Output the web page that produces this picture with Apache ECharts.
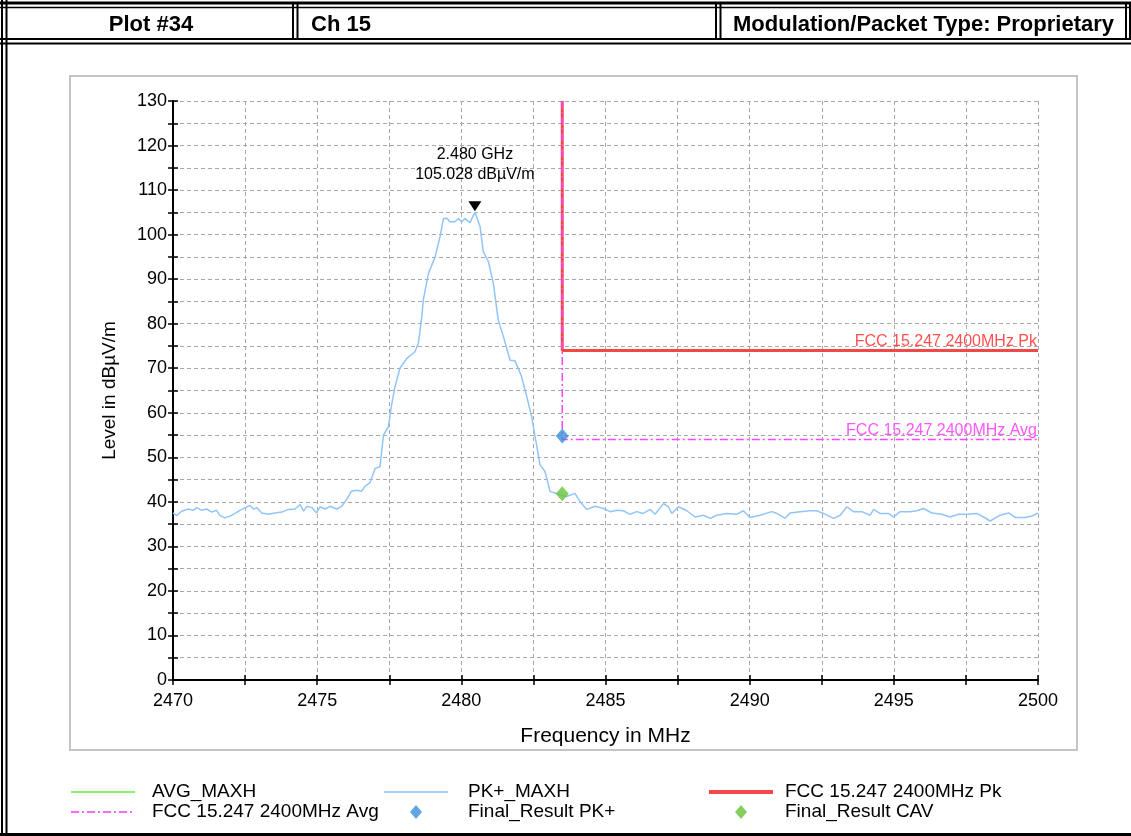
<!DOCTYPE html>
<html><head><meta charset="utf-8">
<script src="https://cdn.jsdelivr.net/npm/echarts@6/dist/echarts.min.js"></script>
<style>html,body{margin:0;padding:0;background:#fff}#c{width:1131px;height:836px}</style>
</head><body><div id="c"></div>
<script>
// ---- data ----
const freqMHz = [2470.00,2470.13,2470.30,2470.53,2470.71,2470.82,2471.00,2471.17,2471.34,2471.51,2471.63,2471.80,2471.98,2472.15,2472.32,2472.50,2472.67,2472.79,2472.91,2473.08,2473.31,2473.54,2473.78,2474.00,2474.23,2474.41,2474.53,2474.64,2474.82,2474.98,2475.10,2475.27,2475.44,2475.68,2475.85,2476.02,2476.19,2476.37,2476.54,2476.66,2476.83,2477.01,2477.18,2477.30,2477.47,2477.59,2477.70,2477.87,2478.11,2478.39,2478.51,2478.63,2478.68,2478.86,2479.09,2479.26,2479.38,2479.49,2479.61,2479.78,2479.90,2480.01,2480.13,2480.30,2480.47,2480.65,2480.76,2480.94,2481.11,2481.28,2481.46,2481.69,2481.86,2482.09,2482.27,2482.44,2482.56,2482.73,2482.90,2483.08,2483.25,2483.45,2483.65,2483.94,2484.12,2484.35,2484.64,2484.93,2485.16,2485.39,2485.62,2485.85,2486.08,2486.31,2486.55,2486.72,2487.01,2487.18,2487.30,2487.53,2487.82,2488.11,2488.40,2488.63,2488.86,2489.21,2489.55,2489.78,2490.01,2490.36,2490.77,2490.94,2491.23,2491.40,2491.75,2492.09,2492.32,2492.56,2492.91,2493.14,2493.37,2493.60,2493.89,2494.18,2494.30,2494.52,2494.81,2494.99,2495.22,2495.56,2495.80,2496.03,2496.32,2496.66,2496.95,2497.24,2497.53,2497.88,2498.11,2498.34,2498.69,2498.98,2499.21,2499.55,2499.79,2500.00];
const pkLevel = [37.5,36.9,37.9,38.4,38.1,38.7,38.1,38.4,37.7,38.1,36.9,36.4,36.8,37.4,38.1,38.7,39.2,38.4,38.7,37.5,37.2,37.5,37.7,38.3,38.4,39.4,37.9,39.0,38.7,37.5,38.9,38.4,39.0,38.4,39.0,40.5,42.4,42.6,42.4,43.5,44.3,47.5,47.9,55.0,56.9,62.1,65.9,70.0,72.2,73.7,75.6,81.6,85.3,91.3,95.0,99.5,103.6,103.7,102.9,102.9,103.6,102.9,103.6,102.7,105.028,101.8,96.2,93.9,89.1,80.8,77.1,71.8,71.7,68.1,63.6,59.1,54.6,48.3,46.8,42.3,42.0,41.5,41.2,41.9,40.0,38.3,39.0,38.5,37.8,38.1,38.0,37.2,37.8,37.4,38.3,37.2,39.6,38.9,37.4,38.9,38.0,36.6,37.0,36.3,37.0,37.4,37.2,38.0,36.5,37.0,37.8,37.4,36.3,37.5,37.8,38.0,38.0,37.4,36.3,37.0,38.9,37.8,37.8,37.0,38.3,37.4,37.4,36.6,37.8,37.8,38.0,38.5,37.5,37.2,36.6,37.2,37.2,37.4,36.6,35.7,37.0,37.5,36.5,36.5,36.8,37.5];
const avgMaxhLevel = [];
const pkLimitF = [2483.5, 2483.5, 2500];
const pkLimitL = [130, 74, 74];
const avgLimitF = [2483.5, 2483.5, 2500];
const avgLimitL = [130, 54, 54];
const finalPkF = [2483.5], finalPkL = [54.8];
const finalCavF = [2483.5], finalCavL = [41.8];
const markerF = 2480.47, markerL = 105.028;
const markerText = '2.480 GHz\n105.028 dBµV/m';
const headerTexts = ['Plot #34', 'Ch 15', 'Modulation/Packet Type: Proprietary'];
const seriesNames = ['AVG_MAXH','PK+_MAXH','FCC 15.247 2400MHz Pk','FCC 15.247 2400MHz Avg','Final_Result PK+','Final_Result CAV'];

// ---- chart ----
const FF = 'Liberation Sans, Arial, sans-serif';
const zip = (a,b)=>a.map((v,i)=>[v,b[i]]);
const chart = echarts.init(document.getElementById('c'));
const gridDash = {color:'#a8a8a8', type:[4,3], width:1};
const hl = (x1,y1,x2,y2,w)=>({type:'line', silent:true, shape:{x1,y1,x2,y2}, style:{stroke:'#000', lineWidth:w||2}});

// legend icon paths (keep aspect, centered in item box)
const lineIcon = h => 'path://M0,0H64V' + h + 'H0Z';
let dd = '';
for (let x = 0; x < 64; x += 16) { dd += 'M'+x+',0h8v2h-8z M'+(x+11)+',0h2v2h-2z '; }
const dashDotIcon = 'path://' + dd + 'M64,0h0.01v2h-0.01z';
const diamondIcon = 'path://M6,0L12,7L6,14L0,7Z';
const legText = {fontSize:19, color:'#000', lineHeight:20, fontFamily:FF};

chart.setOption({
  animation:false,
  backgroundColor:'#fff',
  textStyle:{fontFamily:FF},
  grid:{left:173, right:93, top:101, bottom:156, containLabel:false},
  xAxis:[{
    type:'value', min:2470, max:2500, interval:2.5,
    name:'Frequency in MHz', nameLocation:'middle', nameGap:46,
    nameTextStyle:{fontSize:21, color:'#000', fontFamily:FF},
    axisLine:{lineStyle:{color:'#000', width:2}},
    axisTick:{length:5, lineStyle:{color:'#000', width:1.5}},
    axisLabel:{fontSize:18, color:'#000', margin:12, fontFamily:FF,
      formatter:v=>(Math.abs(v%5)<1e-6?String(v):''), showMinLabel:true, showMaxLabel:true},
    splitLine:{show:true, lineStyle:gridDash}
  },{
    type:'value', min:2470, max:2500, interval:2.5, position:'bottom',
    axisLine:{show:false}, axisLabel:{show:false}, splitLine:{show:false},
    axisTick:{inside:true, length:5, lineStyle:{color:'#000', width:1.5}}
  }],
  yAxis:[{
    type:'value', min:0, max:130, interval:5,
    name:'Level in dBµV/m', nameLocation:'middle', nameGap:54,
    nameTextStyle:{fontSize:19, color:'#000', fontFamily:FF},
    axisLine:{show:true, lineStyle:{color:'#000', width:2}},
    axisTick:{show:true, length:5, lineStyle:{color:'#000', width:1.5}},
    axisLabel:{fontSize:18, color:'#000', margin:6, fontFamily:FF,
      formatter:v=>(v%10===0?String(v):'')},
    splitLine:{show:true, lineStyle:gridDash}
  },{
    type:'value', min:0, max:130, interval:5, position:'left',
    axisLine:{show:false}, axisLabel:{show:false}, splitLine:{show:false},
    axisTick:{show:true, inside:true, length:5, lineStyle:{color:'#000', width:1.5}}
  }],
  legend:[
    {left:66, top:777, orient:'vertical', itemWidth:64, itemHeight:14, itemGap:0, symbolKeepAspect:true,
     data:[{name:seriesNames[0], icon:lineIcon(2)}, {name:seriesNames[3], icon:dashDotIcon}],
     textStyle:Object.assign({padding:[0,0,0,12]}, legText)},
    {left:379, top:777, orient:'vertical', itemWidth:64, itemHeight:14, itemGap:0, symbolKeepAspect:true,
     data:[{name:seriesNames[1], icon:lineIcon(2)}, {name:seriesNames[4], icon:diamondIcon}],
     textStyle:Object.assign({padding:[0,0,0,15]}, legText)},
    {left:704, top:777, orient:'vertical', itemWidth:64, itemHeight:14, itemGap:0, symbolKeepAspect:true,
     data:[{name:seriesNames[2], icon:lineIcon(4)}, {name:seriesNames[5], icon:diamondIcon}],
     textStyle:Object.assign({padding:[0,0,0,7]}, legText)}
  ],
  series:[
    {name:seriesNames[0], type:'line', data:avgMaxhLevel, showSymbol:false, symbol:'none',
     lineStyle:{color:'#8ef06e', width:1.5}, itemStyle:{color:'#8ef06e'}},
    {name:seriesNames[1], type:'line', data:zip(freqMHz,pkLevel), showSymbol:false, symbol:'none',
     lineStyle:{color:'#92c5f7', width:1.5}, itemStyle:{color:'#a6d0fa'}, z:3,
     markPoint:{silent:true, symbol:'triangle', symbolRotate:180, symbolSize:[13,10], symbolOffset:[0,-6],
       itemStyle:{color:'#000'},
       label:{show:true, position:'top', distance:17, formatter:markerText, color:'#000', fontSize:16, lineHeight:20, fontFamily:FF},
       data:[{coord:[markerF, markerL]}]}},
    {name:seriesNames[2], type:'line', data:zip(pkLimitF,pkLimitL), showSymbol:false, symbol:'none',
     lineStyle:{color:'#f24848', width:3}, itemStyle:{color:'#f24848'}, z:2,
     markPoint:{silent:true, symbol:'circle', symbolSize:0,
       label:{show:true, position:'left', distance:1, offset:[0,-9], formatter:seriesNames[2], color:'#ff5050', fontSize:16, fontFamily:FF},
       data:[{coord:[pkLimitF[2], pkLimitL[2]]}]}},
    {name:seriesNames[3], type:'line', data:zip(avgLimitF,avgLimitL), showSymbol:false, symbol:'none',
     lineStyle:{color:'#ff44ff', width:1.5, type:[8,3,2,3]}, itemStyle:{color:'#ff66ff'}, z:3,
     markPoint:{silent:true, symbol:'circle', symbolSize:0,
       label:{show:true, position:'left', distance:1, offset:[0,-9], formatter:seriesNames[3], color:'#ff55ff', fontSize:16, fontFamily:FF},
       data:[{coord:[avgLimitF[2], avgLimitL[2]]}]}},
    {name:seriesNames[4], type:'scatter', data:zip(finalPkF,finalPkL), symbol:'diamond', symbolSize:[13,15],
     itemStyle:{color:'#3a8fd9'}, z:5},
    {name:seriesNames[5], type:'scatter', data:zip(finalCavF,finalCavL), symbol:'diamond', symbolSize:[13,15],
     itemStyle:{color:'#66c23a'}, z:5}
  ],
  graphic:[
    {type:'rect', silent:true, shape:{x:70, y:76, width:1007, height:674}, style:{fill:'none', stroke:'#c4c4c4', lineWidth:2}},
    // header borders
    hl(0,3,1131,3,3), hl(0,7.5,1131,7.5,1.5),
    hl(0,39,1131,39,2), hl(0,43.5,1131,43.5,2),
    hl(2,0,2,836,2), hl(6.5,0,6.5,836,2),
    hl(293,3,293,39,2), hl(297.5,3,297.5,39,2),
    hl(716,3,716,39,2), hl(720.5,3,720.5,39,2),
    hl(1126,3,1126,39,2), hl(1130,3,1130,39,2),
    hl(0,834.5,1131,834.5,3),
    {type:'text', silent:true, style:{text:headerTexts[0], x:151, y:25, align:'center', verticalAlign:'middle', fontSize:22, fontWeight:'bold', fontFamily:FF, fill:'#000'}},
    {type:'text', silent:true, style:{text:headerTexts[1], x:311, y:25, align:'left', verticalAlign:'middle', fontSize:22, fontWeight:'bold', fontFamily:FF, fill:'#000'}},
    {type:'text', silent:true, style:{text:headerTexts[2], x:733, y:25, align:'left', verticalAlign:'middle', fontSize:22, fontWeight:'bold', fontFamily:FF, fill:'#000'}}
  ]
});
</script></body></html>
